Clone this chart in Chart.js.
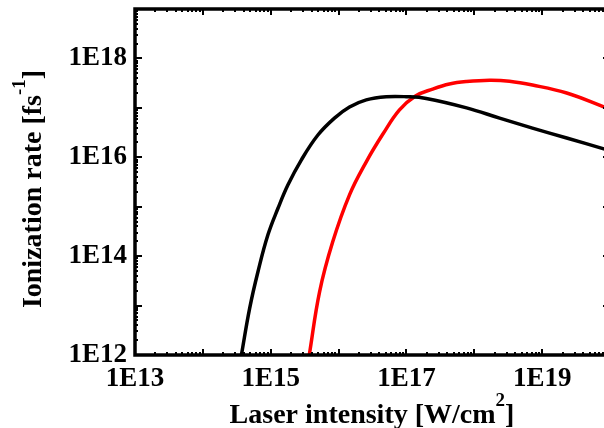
<!DOCTYPE html>
<html>
<head>
<meta charset="utf-8">
<script src="https://cdn.jsdelivr.net/npm/chart.js@4/dist/chart.umd.min.js"></script>
<style>
  html, body { margin: 0; padding: 0; overflow: hidden; background: #ffffff; }
  #wrap { width: 612px; height: 428px; position: relative; }
</style>
</head>
<body>
<div id="wrap"><canvas id="c" width="612" height="428"></canvas></div>
<script>
// ---------- data ----------
const intensityBlack = [3.7e14, 4.9e14, 6.5e14, 9.1e14, 1.28e15, 1.79e15, 2.82e15, 4.96e15, 8.7e15, 1.45e16, 2.56e16, 5.05e16, 9.95e16, 1.96e17, 7.7e17, 2.36e18, 7.2e18, 2.3e19, 8.1e19, 1e20];
const rateBlack      = [1.0e12, 8.9e12, 4.9e13, 2.7e14, 9.3e14, 2.75e15, 8.8e15, 2.82e16, 6.2e16, 1.04e17, 1.45e17, 1.68e17, 1.68e17, 1.55e17, 1.0e17, 6.2e16, 3.9e16, 2.45e16, 1.48e16, 1.35e16];

const intensityRed = [3.7e15, 5.25e15, 8.2e15, 1.45e16, 2.56e16, 4.5e16, 7.9e16, 1.36e17, 2.43e17, 4.3e17, 7.7e17, 1.68e18, 3.3e18, 7.2e18, 2.3e19, 8.1e19, 1e20];
const rateRed      = [1.0e12, 1.9e13, 1.95e14, 1.74e15, 8.1e15, 2.95e16, 9.1e16, 1.74e17, 2.4e17, 3.04e17, 3.41e17, 3.63e17, 3.47e17, 2.9e17, 2.0e17, 1.05e17, 9.3e16];

const xTickValues = [1e13, 1e14, 1e15, 1e16, 1e17, 1e18, 1e19, 1e20];
const xTickLabels = ['1E13', '', '1E15', '', '1E17', '', '1E19', ''];
const yTickValues = [1e12, 1e13, 1e14, 1e15, 1e16, 1e17, 1e18, 1e19];
const yTickLabels = ['1E12', '', '1E14', '', '1E16', '', '1E18', ''];
const minorMultipliers = [2, 3, 4, 5, 6, 7, 8, 9];

const xTitleParts = ['Laser intensity [W/cm', '2', ']'];
const yTitleParts = ['Ionization rate [fs', '-1', ']'];

// ---------- chart ----------
const FONT = '"Liberation Serif", "Times New Roman", serif';
Chart.defaults.font.family = FONT;
Chart.defaults.color = '#000';

function zeroPad(s) { s.paddingLeft = 0; s.paddingRight = 0; s.paddingTop = 0; s.paddingBottom = 0; }

const framePlugin = {
  id: 'frame',
  afterDatasetsDraw(chart) {
    const { ctx, chartArea: a, scales } = chart;
    const xs = scales.x, ys = scales.y;
    ctx.save();
    ctx.strokeStyle = '#000';
    ctx.lineWidth = 2;
    ctx.lineCap = 'butt';
    ctx.beginPath();
    xTickValues.forEach(v => {
      const list = [[v, 6]].concat(minorMultipliers.map(m => [v * m, 3]));
      list.forEach(([val, len]) => {
        if (val > xs.max) return;
        const px = Math.round(xs.getPixelForValue(val));
        ctx.moveTo(px, a.bottom); ctx.lineTo(px, a.bottom - len);
        ctx.moveTo(px, a.top); ctx.lineTo(px, a.top + len);
      });
    });
    yTickValues.forEach(v => {
      const list = [[v, 7]].concat(minorMultipliers.map(m => [v * m, 3]));
      list.forEach(([val, len]) => {
        if (val > ys.max) return;
        const py = Math.round(ys.getPixelForValue(val));
        ctx.moveTo(a.left, py); ctx.lineTo(a.left + len, py);
        ctx.moveTo(a.right, py); ctx.lineTo(a.right - len, py);
      });
    });
    ctx.stroke();
    ctx.lineWidth = 3.5;
    ctx.strokeRect(a.left, a.top, a.right - a.left, a.bottom - a.top);
    ctx.restore();
  },
  afterDraw(chart) {
    const { ctx } = chart;
    ctx.save();
    ctx.fillStyle = '#000';
    const big = 'bold 28px ' + FONT;
    const small = 'bold 19px ' + FONT;
    ctx.font = big;
    const w0 = ctx.measureText(xTitleParts[0]).width;
    const w2 = ctx.measureText(xTitleParts[2]).width;
    ctx.font = small;
    const w1 = ctx.measureText(xTitleParts[1]).width;
    let x = 372 - (w0 + w1 + w2) / 2;
    const base = 423;
    ctx.textBaseline = 'alphabetic';
    ctx.textAlign = 'left';
    ctx.font = big; ctx.fillText(xTitleParts[0], x, base); x += w0;
    ctx.font = small; ctx.fillText(xTitleParts[1], x, base - 17); x += w1;
    ctx.font = big; ctx.fillText(xTitleParts[2], x, base);
    ctx.font = big;
    const v0 = ctx.measureText(yTitleParts[0]).width;
    const v2 = ctx.measureText(yTitleParts[2]).width;
    ctx.font = small;
    const v1 = ctx.measureText(yTitleParts[1]).width;
    ctx.translate(41, 189);
    ctx.rotate(-Math.PI / 2);
    let t = -(v0 + v1 + v2) / 2;
    ctx.font = big; ctx.fillText(yTitleParts[0], t, 0); t += v0;
    ctx.font = small; ctx.fillText(yTitleParts[1], t, -16); t += v1;
    ctx.font = big; ctx.fillText(yTitleParts[2], t, 0);
    ctx.restore();
  }
};

new Chart(document.getElementById('c'), {
  type: 'line',
  data: {
    datasets: [
      {
        data: intensityBlack.map((v, i) => ({ x: v, y: rateBlack[i] })),
        borderColor: '#000000',
        borderWidth: 3.5,
        pointRadius: 0,
        fill: false,
        tension: 0.4
      },
      {
        data: intensityRed.map((v, i) => ({ x: v, y: rateRed[i] })),
        borderColor: '#ff0000',
        borderWidth: 3.5,
        pointRadius: 0,
        fill: false,
        tension: 0.4
      }
    ]
  },
  options: {
    responsive: false,
    animation: false,
    devicePixelRatio: 1,
    layout: { padding: { top: 9, right: 2, left: 0, bottom: 0 } },
    plugins: { legend: { display: false }, tooltip: { enabled: false } },
    scales: {
      x: {
        type: 'logarithmic',
        min: 1e13, max: 1e20,
        grid: { display: false, drawTicks: false },
        border: { display: false },
        afterBuildTicks: s => { s.ticks = xTickValues.map(v => ({ value: v })); },
        afterFit: s => { s.height = 73; zeroPad(s); },
        ticks: {
          autoSkip: false, maxRotation: 0, minRotation: 0, padding: 8,
          color: '#000', font: { size: 27, weight: 'bold' },
          callback: (v, i) => xTickLabels[i]
        }
      },
      y: {
        type: 'logarithmic',
        min: 1e12, max: 1e19,
        grid: { display: false, drawTicks: false },
        border: { display: false },
        afterBuildTicks: s => { s.ticks = yTickValues.map(v => ({ value: v })); },
        afterFit: s => { s.width = 135; zeroPad(s); },
        ticks: {
          autoSkip: false, padding: 8,
          color: '#000', font: { size: 27, weight: 'bold' },
          callback: (v, i) => yTickLabels[i]
        }
      }
    }
  },
  plugins: [framePlugin]
});
</script>
</body>
</html>
